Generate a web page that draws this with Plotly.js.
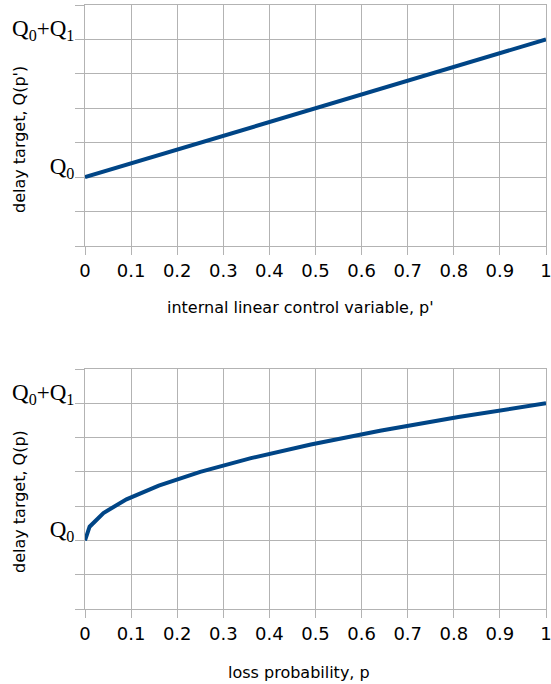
<!DOCTYPE html>
<html>
<head>
<meta charset="utf-8">
<script src="https://cdn.plot.ly/plotly-3.0.1.min.js"></script>
<style>html,body{margin:0;padding:0;background:#fff;}#chart{width:551px;height:684px;}</style>
</head>
<body>
<div id="chart"></div>
<script>
// Top panel: internal linear control variable p' vs delay target
var pPrime = [0, 1];
var qTop = [0, 1];
// Bottom panel: loss probability p vs delay target
var pLoss = [0, 0.01, 0.04, 0.09, 0.16, 0.25, 0.36, 0.49, 0.64, 0.81, 1];
var qBottom = [0, 0.1, 0.2, 0.3, 0.4, 0.5, 0.6, 0.7, 0.8, 0.9, 1];

var xTickVals = [0, 0.1, 0.2, 0.3, 0.4, 0.5, 0.6, 0.7, 0.8, 0.9, 1];
var xTickText = ['0', '0.1', '0.2', '0.3', '0.4', '0.5', '0.6', '0.7', '0.8', '0.9', '1'];
var yTickVals = [-0.5, -0.25, 0, 0.25, 0.5, 0.75, 1, 1.25];
var yTickText = ['', '', 'Q<sub>0</sub>', '', '', '', 'Q<sub>0</sub>+Q<sub>1</sub>', ''];

var lineColor = '#004586';
var gridColor = '#b3b3b3';
var sans = 'DejaVu Sans, Verdana, sans-serif';

var traces = [
  {x: pPrime, y: qTop, xaxis: 'x', yaxis: 'y', mode: 'lines',
   line: {color: lineColor, width: 4}, hoverinfo: 'skip'},
  {x: pLoss, y: qBottom, xaxis: 'x2', yaxis: 'y2', mode: 'lines',
   line: {color: lineColor, width: 4}, hoverinfo: 'skip'}
];

function xAxis(anchor) {
  return {
    anchor: anchor, domain: [85/551, 546/551], range: [0, 1],
    tickmode: 'array', tickvals: xTickVals, ticktext: xTickText,
    ticks: 'outside', ticklen: 8, tickcolor: gridColor, tickwidth: 1,
    showgrid: true, gridcolor: gridColor, gridwidth: 1,
    zeroline: false, showline: true, linecolor: gridColor, mirror: true,
    ticklabeloverflow: 'allow',
    tickfont: {family: sans, size: 18, color: '#000'},
    fixedrange: true
  };
}
function yAxis(anchor, dom) {
  return {
    anchor: anchor, domain: dom, range: [-0.5, 1.25],
    tickmode: 'array', tickvals: yTickVals, ticktext: yTickText,
    ticks: 'outside', ticklen: 9, tickcolor: gridColor, tickwidth: 1,
    showgrid: true, gridcolor: gridColor, gridwidth: 1,
    zeroline: false, showline: true, linecolor: gridColor, mirror: true,
    ticklabeloverflow: 'allow',
    ticklabelshift: -11, ticklabelstandoff: -4,
    tickfont: {family: 'Liberation Serif, Times New Roman, serif', size: 23, color: '#000'},
    fixedrange: true
  };
}

var titleFont = {family: sans, size: 16, color: '#000'};

var layout = {
  width: 551, height: 684,
  margin: {l: 0, r: 0, t: 0, b: 0, pad: 0},
  paper_bgcolor: '#fff', plot_bgcolor: '#fff',
  showlegend: false,
  xaxis: xAxis('y'),
  yaxis: yAxis('x', [1 - 246/684, 1 - 5/684]),
  xaxis2: xAxis('y2'),
  yaxis2: yAxis('x2', [1 - 609/684, 1 - 369/684]),
  annotations: [
    {text: "internal linear control variable, p'", xref: 'paper', yref: 'paper',
     x: 300/551, y: 1 - 308/684, xanchor: 'center', yanchor: 'middle', showarrow: false, font: titleFont},
    {text: 'loss probability, p', xref: 'paper', yref: 'paper',
     x: 299/551, y: 1 - 672/684, xanchor: 'center', yanchor: 'middle', showarrow: false, font: titleFont},
    {text: "delay target, Q(p')", xref: 'paper', yref: 'paper', textangle: -90,
     x: 19/551, y: 1 - 140/684, xanchor: 'center', yanchor: 'middle', showarrow: false, font: titleFont},
    {text: 'delay target, Q(p)', xref: 'paper', yref: 'paper', textangle: -90,
     x: 19/551, y: 1 - 502/684, xanchor: 'center', yanchor: 'middle', showarrow: false, font: titleFont}
  ]
};

Plotly.newPlot('chart', traces, layout, {displayModeBar: false, staticPlot: true});
</script>
</body>
</html>
